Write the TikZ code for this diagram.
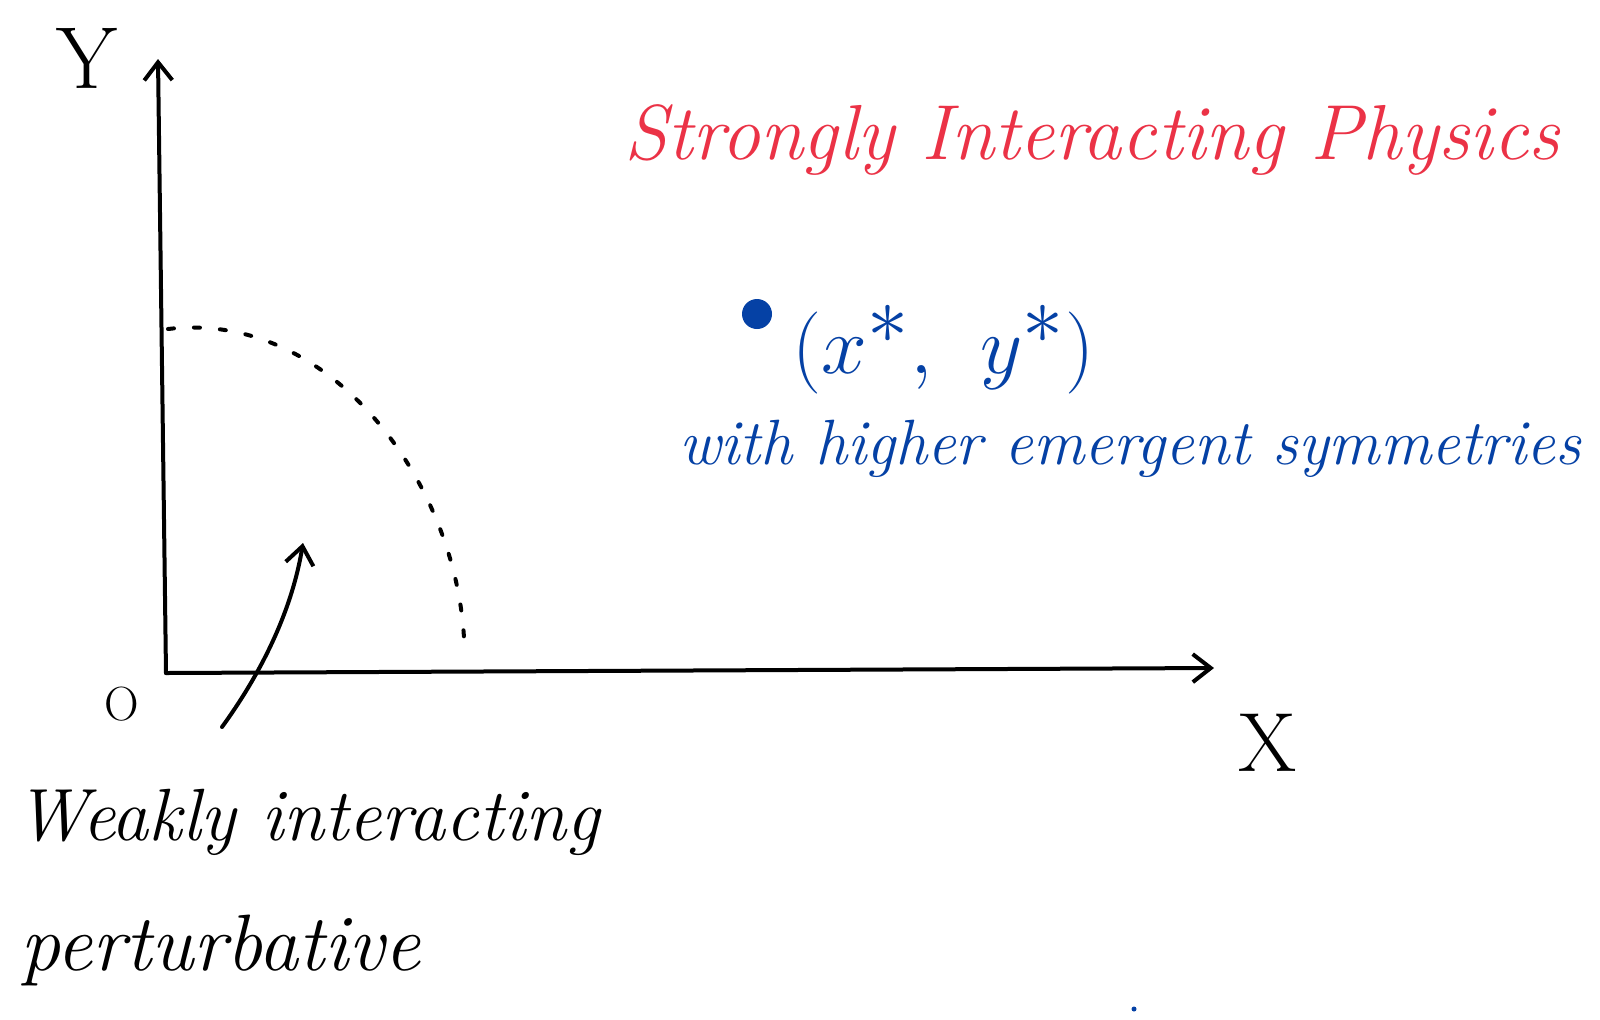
\documentclass[tikz,border=0pt]{standalone}
\usepackage{xcolor}
\usepackage{graphicx}
\usepackage{tikz}
\usetikzlibrary{arrows.meta, positioning}

\definecolor{penred}{RGB}{235,50,70}
\definecolor{penblue}{RGB}{5,65,165}

\begin{document}
\begin{tikzpicture}[x=0.5pt, y=-0.5pt]
    \tikzstyle{pen} = [line width=2pt, line cap=round, line join=round]
    \tikzstyle{axis} = [pen, -{Straight Barb[length=9pt, width=14pt, line width=2pt]}]
    \tikzstyle{hand} = [font=\itshape, inner sep=0pt]
    \tikzstyle{title} = [hand, text=penred]
    \tikzstyle{note} = [hand, text=penblue]

    \useasboundingbox[fill=white] (0,0) rectangle (1600,1019);

    % Axes
    \coordinate (origin) at (166,673);
    \coordinate (y_end) at (158,59);
    \coordinate (x_end) at (1214,668);
    \draw[axis] (origin) -- (y_end);
    \draw[axis] (origin) -- (x_end);

    \node[hand, font=\fontsize{44}{48}\selectfont] (y_label) at (87,58) {Y};
    \node[hand, font=\fontsize{42}{46}\selectfont] (x_label) at (1268,743) {X};
    \node[hand, font=\fontsize{24}{28}\selectfont] (o_label) at (122,704) {O};

    % Dotted boundary
    \coordinate (arc_start) at (168,329);
    \coordinate (arc_end) at (464,638);
    \draw[pen, dash pattern=on 3pt off 10pt] (arc_start)
        .. controls (330,310) and (455,480) .. (arc_end);

    % Red title
    \node[title, font=\itshape\fontsize{39}{44}\selectfont] (strong) at (1092,140)
        {Strongly Interacting Physics};

    % Fixed point
    \node[circle, fill=penblue, minimum size=15pt, inner sep=0pt] (fixed_pt) at (757,314) {};
    \node[note, font=\fontsize{34}{38}\selectfont, right=10pt of fixed_pt, yshift=-18pt]
        (fixed_lbl) {\scalebox{1.65}{$(x^{*},\ y^{*})$}};
    \node[note, font=\itshape\fontsize{32}{36}\selectfont] (symm) at (1130,449)
        {with higher emergent symmetries};

    % Weak coupling text
    \node[hand, font=\itshape\fontsize{37}{41}\selectfont, anchor=west] (weak) at (15,822)
        {Weakly interacting};
    \node[hand, font=\itshape\fontsize{40}{44}\selectfont, anchor=west] (pert) at (20,950)
        {perturbative};

    % Arrow into the weak region
    \coordinate (arrow_tail) at (222,727);
    \coordinate (arrow_head) at (303,543);
    \draw[axis] (arrow_tail) .. controls (262,672) and (292,610) .. (arrow_head);

    \node[circle, fill=penblue, minimum size=2.5pt, inner sep=0pt] (speck) at (1134,1009) {};
\end{tikzpicture}
\end{document}
